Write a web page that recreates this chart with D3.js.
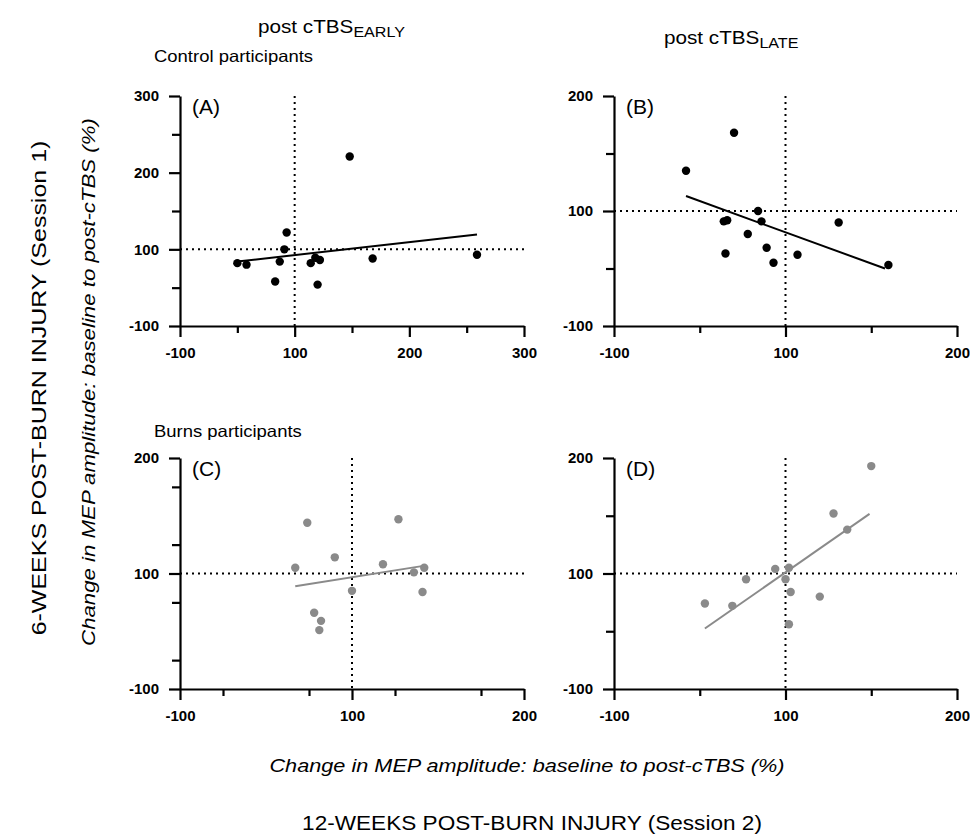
<!DOCTYPE html>
<html>
<head>
<meta charset="utf-8">
<script src="https://cdn.jsdelivr.net/npm/d3@7"></script>
<style>
  body { margin: 0; background: #fff; }
  svg { display: block; }
  text { font-family: Arial, "Liberation Sans", Helvetica, sans-serif; fill: #000; }
</style>
</head>
<body>
<div id="chart"></div>
<script>
// values (origin of each axis is the tick labelled "-100")
const ctrlEarlyX = [50, 58, 83, 87, 91, 93, 114, 118, 122, 120, 148, 168, 259];
const ctrlEarlyY = [82, 80, 58, 84, 100, 122, 82, 89, 86, 54, 221, 88, 93];
const ctrlLateX = [42, 70, 64, 66, 65, 78, 84, 86, 89, 93, 107, 131, 160];
const ctrlLateY = [135, 168, 91, 92, 63, 80, 100, 91, 68, 55, 62, 90, 53];
const burnEarlyX = [67, 74, 78, 82, 81, 90, 100, 118, 127, 136, 142, 141];
const burnEarlyY = [105, 144, 66, 59, 51, 114, 85, 108, 147, 101, 105, 84];
const burnLateX = [53, 69, 77, 94, 100, 102, 103, 102, 120, 128, 136, 150];
const burnLateY = [74, 72, 95, 104, 95, 105, 84, 56, 80, 152, 138, 193];

// fitted regression lines: [start, end]
const fitCtrlEarlyX = [50, 259], fitCtrlEarlyY = [84, 119.5];
const fitCtrlLateX = [42, 158], fitCtrlLateY = [113, 50];
const fitBurnEarlyX = [67, 141.5], fitBurnEarlyY = [89, 106.6];
const fitBurnLateX = [53, 149], fitBurnLateY = [52.4, 151.6];

// ticks
const major300 = [0, 100, 200, 300], labels300 = ['-100', '100', '200', '300'];
const minor300 = [50, 150, 250];
const major200 = [0, 100, 200], labels200 = ['-100', '100', '200'];
const minor200 = [50, 150];
const minorQuarter = [25, 75, 125, 175];

const width = 970, height = 838;
const svg = d3.select('#chart').append('svg')
    .attr('width', width)
    .attr('height', height);

const panels = [
    { tag: '(A)', xs: ctrlEarlyX, ys: ctrlEarlyY, fx: fitCtrlEarlyX, fy: fitCtrlEarlyY,
      xMax: 300, yMax: 300, xMajor: major300, xLabels: labels300, xMinor: minor300,
      yMajor: major300, yLabels: labels300, yMinor: minor300,
      left: 180, right: 524, top: 96, bottom: 326, color: '#000' },
    { tag: '(B)', xs: ctrlLateX, ys: ctrlLateY, fx: fitCtrlLateX, fy: fitCtrlLateY,
      xMax: 200, yMax: 200, xMajor: major200, xLabels: labels200, xMinor: minor200,
      yMajor: major200, yLabels: labels200, yMinor: minor200,
      left: 614, right: 957, top: 96, bottom: 326, color: '#000' },
    { tag: '(C)', xs: burnEarlyX, ys: burnEarlyY, fx: fitBurnEarlyX, fy: fitBurnEarlyY,
      xMax: 200, yMax: 200, xMajor: major200, xLabels: labels200, xMinor: minorQuarter,
      yMajor: major200, yLabels: labels200, yMinor: minorQuarter,
      left: 180, right: 524, top: 458, bottom: 689, color: '#8a8a8a' },
    { tag: '(D)', xs: burnLateX, ys: burnLateY, fx: fitBurnLateX, fy: fitBurnLateY,
      xMax: 200, yMax: 200, xMajor: major200, xLabels: labels200, xMinor: minor200,
      yMajor: major200, yLabels: labels200, yMinor: minor200,
      left: 614, right: 957, top: 458, bottom: 689, color: '#8a8a8a' }
];

panels.forEach(p => {
    const x = d3.scaleLinear().domain([0, p.xMax]).range([p.left, p.right]);
    const y = d3.scaleLinear().domain([0, p.yMax]).range([p.bottom, p.top]);
    const g = svg.append('g');

    // dotted reference lines at 100 %
    g.append('line')
        .attr('x1', x(100)).attr('x2', x(100))
        .attr('y1', y(p.yMax)).attr('y2', y(0))
        .attr('stroke', '#000').attr('stroke-width', 2)
        .attr('stroke-dasharray', '2,4');
    g.append('line')
        .attr('x1', x(0)).attr('x2', x(p.xMax))
        .attr('y1', y(100)).attr('y2', y(100))
        .attr('stroke', '#000').attr('stroke-width', 2)
        .attr('stroke-dasharray', '2,4');

    // axes
    const fmt = (major, labels) => d => {
        const i = major.indexOf(d);
        return i < 0 ? '' : labels[i];
    };
    const xAxis = g.append('g')
        .attr('transform', `translate(0,${p.bottom})`)
        .call(d3.axisBottom(x)
            .tickValues(p.xMajor.concat(p.xMinor).sort(d3.ascending))
            .tickFormat(fmt(p.xMajor, p.xLabels))
            .tickSize(11).tickSizeOuter(0).tickPadding(10));
    const yAxis = g.append('g')
        .attr('transform', `translate(${p.left},0)`)
        .call(d3.axisLeft(y)
            .tickValues(p.yMajor.concat(p.yMinor).sort(d3.ascending))
            .tickFormat(fmt(p.yMajor, p.yLabels))
            .tickSize(11).tickSizeOuter(0).tickPadding(10));

    [xAxis, yAxis].forEach(a => {
        a.select('.domain').attr('stroke-width', 2.2);
        a.selectAll('.tick line').attr('stroke-width', 2.2);
        a.selectAll('.tick text')
            .style('font-size', '15px')
            .style('font-weight', 'bold');
    });
    xAxis.selectAll('.tick line').filter(d => p.xMinor.includes(d)).attr('y2', 7);
    yAxis.selectAll('.tick line').filter(d => p.yMinor.includes(d)).attr('x2', -8);

    // regression line
    g.append('line')
        .attr('x1', x(p.fx[0])).attr('x2', x(p.fx[1]))
        .attr('y1', y(p.fy[0])).attr('y2', y(p.fy[1]))
        .attr('stroke', p.color).attr('stroke-width', 2);

    // points
    g.selectAll('circle')
        .data(p.xs.map((v, i) => [v, p.ys[i]]))
        .join('circle')
        .attr('cx', d => x(d[0]))
        .attr('cy', d => y(d[1]))
        .attr('r', 4.2)
        .attr('fill', p.color);

    g.append('text')
        .attr('x', p.left + 12)
        .attr('y', p.top + 18)
        .style('font-size', '21px')
        .text(p.tag);
});

// the figure's lettering is a little wider than the font, so stretch it along the line
const label = (x, y, sx, rot) => svg.append('g')
    .attr('transform', `translate(${x},${y}) rotate(${rot || 0}) scale(${sx},1)`)
    .append('text');

const title = (x, y, sub) => {
    const t = label(x, y, 1.15)
        .style('font-size', '18px')
        .text('post cTBS');
    t.append('tspan')
        .attr('dy', 4)
        .style('font-size', '14px')
        .text(sub);
};
title(258, 33, 'EARLY');
title(664, 44, 'LATE');

label(154, 62, 1.12)
    .style('font-size', '16.5px')
    .text('Control participants');
label(154, 437, 1.12)
    .style('font-size', '16.5px')
    .text('Burns participants');

// shared axis titles
label(95, 382, 1.27, -90)
    .attr('text-anchor', 'middle')
    .style('font-size', '17.5px')
    .style('font-style', 'italic')
    .text('Change in MEP amplitude: baseline to post-cTBS (%)');
label(527, 772, 1.24)
    .attr('text-anchor', 'middle')
    .style('font-size', '17.5px')
    .style('font-style', 'italic')
    .text('Change in MEP amplitude: baseline to post-cTBS (%)');

label(46, 388, 1.25, -90)
    .attr('text-anchor', 'middle')
    .style('font-size', '20px')
    .text('6-WEEKS POST-BURN INJURY (Session 1)');
label(532, 830, 1.13)
    .attr('text-anchor', 'middle')
    .style('font-size', '20px')
    .text('12-WEEKS POST-BURN INJURY (Session 2)');
</script>
</body>
</html>
